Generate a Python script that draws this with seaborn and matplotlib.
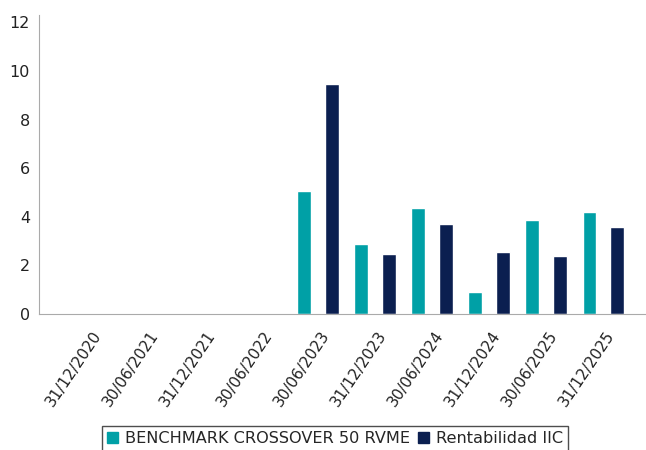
import pandas as pd
import matplotlib
matplotlib.use("Agg")
import matplotlib.pyplot as plt
import matplotlib.transforms as mtrans
import seaborn as sns

sns.set_style("white")
plt.rcParams['font.family'] = ['DejaVu Sans']

# fechas y rentabilidades (%)
fechas = ['31/12/2020', '30/06/2021', '31/12/2021', '30/06/2022', '30/06/2023',
          '31/12/2023', '30/06/2024', '31/12/2024', '30/06/2025', '31/12/2025']
benchmark = [None, None, None, None, 5.08, 2.90, 4.38, 0.90, 3.85, 4.18]
rentabilidad = [None, None, None, None, 9.47, 2.45, 3.69, 2.54, 2.38, 3.57]
series = ['BENCHMARK CROSSOVER 50 RVME', 'Rentabilidad IIC']
colores = ['#00A0A6', '#0B1F50']

df = pd.DataFrame({'fecha': fechas * 2,
                   'valor': benchmark + rentabilidad,
                   'serie': [series[0]] * len(fechas) + [series[1]] * len(fechas)})

fig = plt.figure(figsize=(6.46, 4.5), dpi=100)
ax = fig.add_axes([39 / 646, 1 - 314 / 450, 1 - 39 / 646, (314 - 15) / 450])

sns.barplot(data=df, x='fecha', y='valor', hue='serie', order=fechas,
            hue_order=series, palette=colores, width=0.98, gap=0.52,
            saturation=1, ax=ax, legend=True)

ax.set_xlim(-0.89, 9.75)
ax.set_ylim(0, 12.3)
ax.set_yticks([0, 2, 4, 6, 8, 10, 12])
ax.set_xlabel('')
ax.set_ylabel('')

for s in ['top', 'right']:
    ax.spines[s].set_visible(False)
for s in ['left', 'bottom']:
    ax.spines[s].set_color('#aaaaaa')
    ax.spines[s].set_linewidth(0.8)

ax.tick_params(axis='both', which='both', length=3, color='#bbbbbb',
               labelsize=11.5, labelcolor='#222222')
ax.tick_params(axis='x', pad=10, labelsize=11)
# las etiquetas del eje x van algo desplazadas a la derecha del tick
offset = mtrans.ScaledTranslation(8 / 100, 0, fig.dpi_scale_trans)
for lbl in ax.get_xticklabels():
    lbl.set_rotation(56)
    lbl.set_ha('right')
    lbl.set_va('center')
    lbl.set_rotation_mode('anchor')
    lbl.set_transform(lbl.get_transform() + offset)

ax.get_legend().remove()
handles = [plt.Rectangle((0, 0), 1, 1, color=c) for c in colores]
leg = fig.legend(handles, series, loc='upper center',
                 bbox_to_anchor=(335 / 646, 1 - 426 / 450), ncol=2,
                 fontsize=11.6, frameon=True, fancybox=False,
                 handlelength=0.7, handleheight=0.7, handletextpad=0.4,
                 columnspacing=0.5, borderpad=0.3, borderaxespad=0)
leg.get_frame().set_edgecolor('#222222')
leg.get_frame().set_linewidth(1.0)

fig.savefig('out.png', dpi=100, facecolor='white')
